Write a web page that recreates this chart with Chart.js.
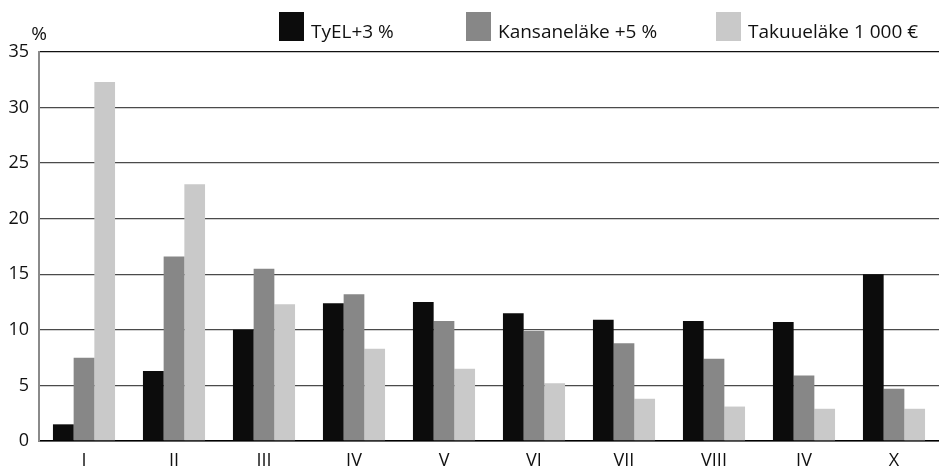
<!DOCTYPE html>
<html>
<head>
<meta charset="utf-8">
<script src="https://cdn.jsdelivr.net/npm/chart.js@4"></script>
<style>
  html, body { margin: 0; padding: 0; background: #fff; overflow: hidden; }
  #wrap { width: 939px; height: 470px; }
</style>
</head>
<body>
<div id="wrap"><canvas id="chart"></canvas></div>
<script>
// --- Datos ---
const categories = ['I', 'II', 'III', 'IV', 'V', 'VI', 'VII', 'VIII', 'IV', 'X'];
const tyel = [1.5, 6.3, 10.0, 12.4, 12.5, 11.5, 10.9, 10.8, 10.7, 15.0];
const kansanelake = [7.5, 16.6, 15.5, 13.2, 10.8, 9.9, 8.8, 7.4, 5.9, 4.7];
const takuuelake = [32.3, 23.1, 12.3, 8.3, 6.5, 5.2, 3.8, 3.1, 2.9, 2.9];
const seriesLabels = ['TyEL+3 %', 'Kansaneläke +5 %', 'Takuueläke 1 000 €'];

const FONT = '"Open Sans", "Noto Sans", sans-serif';

// Leyenda propia: cajas grandes arriba a la derecha, y el "%" encima del eje Y
const topLabels = {
    id: 'topLabels',
    afterDraw(chart, args, opts) {
        const ctx = chart.ctx;
        const area = chart.chartArea;
        ctx.save();
        ctx.font = '19px ' + FONT;
        ctx.fillStyle = '#111';
        ctx.textBaseline = 'alphabetic';

        // "%"
        ctx.textAlign = 'center';
        ctx.fillText('%', area.left, 40);

        // leyenda
        ctx.textAlign = 'left';
        chart.data.datasets.forEach((ds, i) => {
            const x = opts.x[i];
            ctx.fillStyle = ds.backgroundColor;
            ctx.fillRect(x, 12, 25, 29);
            ctx.fillStyle = '#111';
            ctx.fillText(ds.label, x + 32, 38);
        });
        ctx.restore();
    }
};

new Chart(document.getElementById('chart'), {
    type: 'bar',
    data: {
        labels: categories,
        datasets: [
            { label: seriesLabels[0], data: tyel, backgroundColor: '#0c0c0c' },
            { label: seriesLabels[1], data: kansanelake, backgroundColor: '#878787' },
            { label: seriesLabels[2], data: takuuelake, backgroundColor: '#c9c9c9' }
        ]
    },
    options: {
        responsive: true,
        maintainAspectRatio: false,
        animation: false,
        layout: { padding: { left: 0, right: 0, top: 52, bottom: 0 } },
        datasets: { bar: { categoryPercentage: 0.69, barPercentage: 1.0, borderWidth: 0 } },
        scales: {
            x: {
                grid: { display: false, drawTicks: false },
                border: { color: '#000', width: 1.5 },
                ticks: { color: '#111', font: { family: FONT, size: 18 }, padding: 9 },
                afterFit: (s) => { s.height = 29; }
            },
            y: {
                min: 0,
                max: 35,
                ticks: { stepSize: 5, color: '#111', font: { family: FONT, size: 18 }, padding: 10 },
                grid: {
                    drawTicks: false,
                    color: (c) => (c.tick && (c.tick.value === 35 || c.tick.value === 0)) ? '#111' : '#4a4a4a',
                    lineWidth: 1.3
                },
                border: { color: '#8a8a8a', width: 2 },
                afterFit: (s) => { s.width = 39; }
            }
        },
        plugins: {
            legend: { display: false },
            tooltip: { enabled: false },
            title: { display: false },
            topLabels: { x: [279, 466, 716] }
        }
    },
    plugins: [topLabels]
});
</script>
</body>
</html>
